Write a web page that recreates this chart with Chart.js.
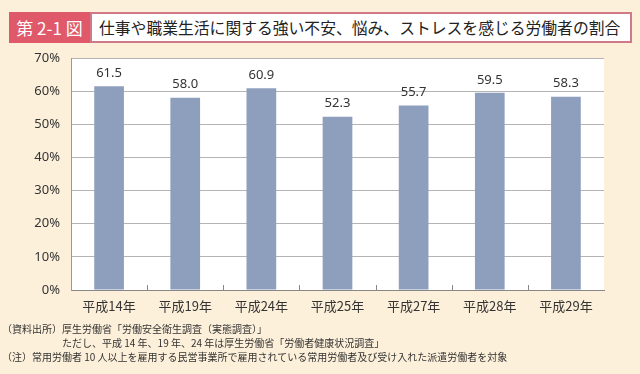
<!DOCTYPE html>
<html>
<head>
<meta charset="utf-8">
<script src="https://cdn.jsdelivr.net/npm/chart.js@4"></script>
<style>
  html, body { margin: 0; padding: 0; }
  body { width: 640px; height: 374px; background: #fdf0da; position: relative; overflow: hidden;
         font-family: "Noto Sans CJK JP", "Noto Sans", sans-serif; }
  #wrap { position: absolute; left: 0; top: 0; width: 640px; height: 374px; }
  .tag { position: absolute; left: 9px; top: 12px; width: 81px; height: 31px; background: #e0596b;
         color: #fff; font-size: 17px; line-height: 31px; text-align: center; }
  .ttl { position: absolute; left: 90px; top: 12px; width: 531px; height: 27px; background: #fff;
         border: 2px solid #cf7a86; color: #222; font-size: 15.8px; line-height: 27px; padding-left: 7px; }
  .note { position: absolute; left: 2px; font-size: 10px; line-height: 14px; color: #333; white-space: nowrap; }
</style>
</head>
<body>
<div id="wrap"><canvas id="chart" width="640" height="374"></canvas></div>
<div class="tag">第 2-1 図</div>
<div class="ttl">仕事や職業生活に関する強い不安、悩み、ストレスを感じる労働者の割合</div>
<div class="note" style="top:322px">（資料出所）厚生労働省「労働安全衛生調査（実態調査）」</div>
<div class="note" style="top:336px;left:62px">ただし、平成 14 年、19 年、24 年は厚生労働省「労働者健康状況調査」</div>
<div class="note" style="top:350px">（注）常用労働者 10 人以上を雇用する民営事業所で雇用されている常用労働者及び受け入れた派遣労働者を対象</div>
<script>
const years = ['平成14年', '平成19年', '平成24年', '平成25年', '平成27年', '平成28年', '平成29年'];
const rates = [61.5, 58.0, 60.9, 52.3, 55.7, 59.5, 58.3];
const yTicks = [0, 10, 20, 30, 40, 50, 60, 70];

// 棒の上に値を書く
const valueLabels = {
  id: 'valueLabels',
  afterDatasetsDraw(chart) {
    const ctx = chart.ctx;
    ctx.save();
    ctx.font = '13px "Noto Sans", sans-serif';
    ctx.fillStyle = '#333';
    ctx.textAlign = 'center';
    ctx.textBaseline = 'middle';
    chart.getDatasetMeta(0).data.forEach((bar, i) => {
      ctx.fillText(rates[i].toFixed(1), bar.x, bar.y - 13);
    });
    ctx.restore();
  }
};

// プロット背景を白に、下の軸に小さい目盛り
const plotBox = {
  id: 'plotBox',
  beforeDraw(chart) {
    const a = chart.chartArea;
    const ctx = chart.ctx;
    ctx.save();
    ctx.fillStyle = '#ffffff';
    ctx.fillRect(a.left, a.top, a.right - a.left, a.bottom - a.top);
    ctx.restore();
  },
  afterDraw(chart) {
    const a = chart.chartArea;
    const xs = chart.scales.x;
    const ctx = chart.ctx;
    ctx.save();
    ctx.strokeStyle = '#888';
    ctx.lineWidth = 1;
    for (let i = 1; i < years.length; i++) {
      const px = Math.round((xs.getPixelForValue(i - 1) + xs.getPixelForValue(i)) / 2) + 0.5;
      ctx.beginPath();
      ctx.moveTo(px, a.bottom);
      ctx.lineTo(px, a.bottom - 5);
      ctx.stroke();
    }
    ctx.restore();
  }
};

new Chart(document.getElementById('chart'), {
  type: 'bar',
  plugins: [plotBox, valueLabels],
  data: {
    labels: years,
    datasets: [{
      data: rates,
      backgroundColor: '#8e9fbd',
      barPercentage: 0.78,
      categoryPercentage: 0.5
    }]
  },
  options: {
    responsive: false,
    animation: false,
    layout: { padding: { left: 0, right: 36, top: 58, bottom: 54 } },
    plugins: { legend: { display: false }, tooltip: { enabled: false } },
    scales: {
      x: {
        grid: { display: false, drawTicks: false },
        border: { color: '#888' },
        ticks: { color: '#333', font: { family: '"Noto Sans CJK JP"', size: 13 }, padding: 8 },
        afterFit: (s) => { s.height = 30; }
      },
      y: {
        min: 0, max: 70,
        afterBuildTicks: (s) => { s.ticks = yTicks.map(v => ({ value: v })); },
        grid: { color: '#b4b4b4', drawTicks: false },
        border: { color: '#999' },
        ticks: { color: '#333', font: { family: '"Noto Sans"', size: 13 }, padding: 11,
                 callback: (v) => v + '%' },
        afterFit: (s) => { s.width = 71; }
      }
    }
  }
});
</script>
</body>
</html>
